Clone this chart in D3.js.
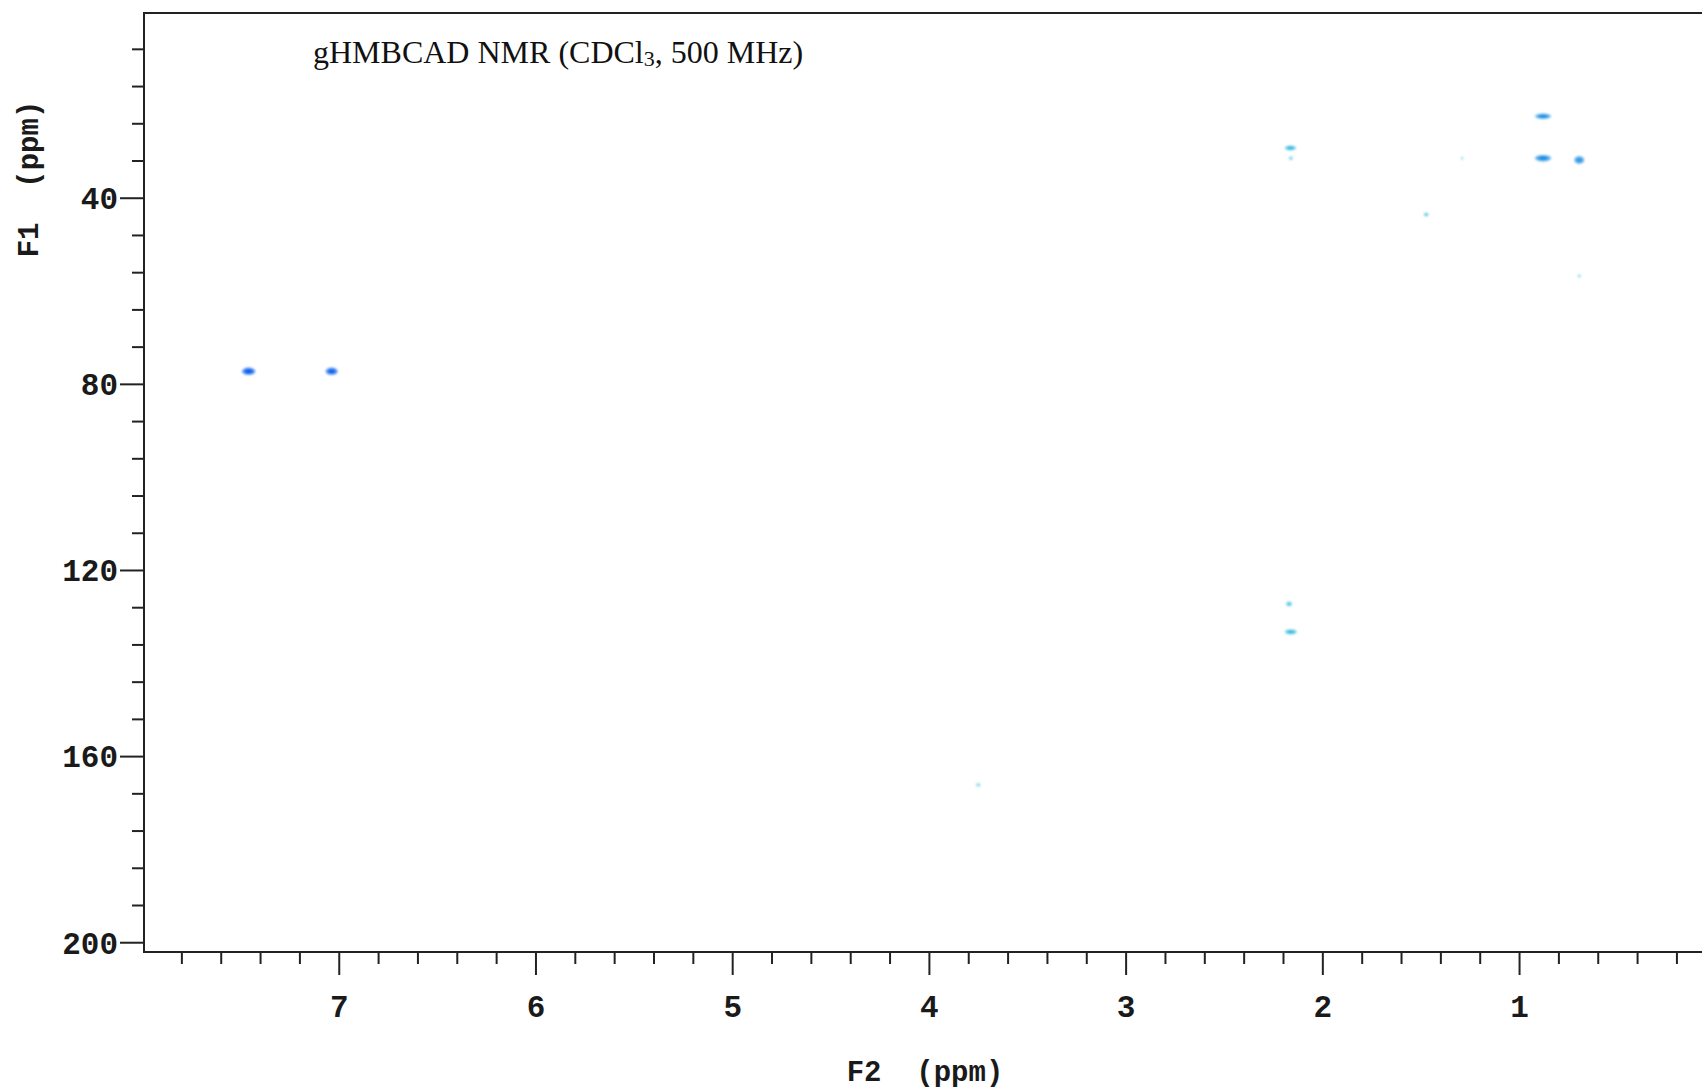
<!DOCTYPE html>
<html>
<head>
<meta charset="utf-8">
<script src="https://cdn.jsdelivr.net/npm/d3@7"></script>
<style>
  html, body { margin: 0; padding: 0; background: #ffffff; }
  svg { display: block; }
</style>
</head>
<body>
<svg id="chart" width="1702" height="1091"></svg>
<script>
// ---- data ----
const titleMain = "gHMBCAD NMR (CDCl";
const titleSub = "3";
const titleTail = ", 500 MHz)";
const xLabel = "F2  (ppm)";
const yLabel = "F1  (ppm)";

const xMajorTicks = [7, 6, 5, 4, 3, 2, 1];
const yMajorTicks = [40, 80, 120, 160, 200];

// cross peaks: F2 (1H, ppm), F1 (13C, ppm)
const peakF2 = [7.458, 7.036, 2.162, 2.160, 1.289, 1.472, 0.878, 0.878, 0.694, 0.694, 2.169, 2.160, 3.749];
const peakF1 = [77.3, 77.3, 29.3, 31.5, 31.5, 43.6, 22.5, 31.5, 31.9, 56.8, 127.3, 133.3, 166.2];
// relative intensity (0..1)
const peakIntensity = [1.0, 0.95, 0.85, 0.35, 0.2, 0.6, 0.9, 0.95, 0.8, 0.3, 0.7, 0.85, 0.3];
// colour family of the contour
const peakTone = ["blue", "blue", "cyan", "cyan", "cyan", "cyan", "azure", "azure", "azure", "cyan", "cyan", "cyan", "cyan"];
// apparent line widths (ppm)
const peakWidthF2 = [0.068, 0.062, 0.058, 0.022, 0.012, 0.025, 0.082, 0.082, 0.052, 0.018, 0.030, 0.062, 0.025];
const peakWidthF1 = [1.6, 1.6, 1.1, 0.9, 0.8, 0.9, 1.2, 1.4, 1.7, 0.7, 1.0, 1.1, 0.8];

// ---- chart ----
const W = 1702, H = 1091;
const mLeft = 144, mTop = 13, mRight = 1702, mBottom = 952;

const svg = d3.select("#chart");
svg.append("rect").attr("width", W).attr("height", H).attr("fill", "#ffffff");

const x = d3.scaleLinear().domain([7.99, 0.07]).range([mLeft, mRight]);
const y = d3.scaleLinear().domain([0.3, 202.1]).range([mTop, mBottom]);

const axisColor = "#222222";
const monoFont = "'Liberation Mono', 'DejaVu Sans Mono', monospace";

// blur for soft contour look
const defs = svg.append("defs");
defs.append("filter").attr("id", "soft")
  .attr("x", "-50%").attr("y", "-50%").attr("width", "200%").attr("height", "200%")
  .append("feGaussianBlur").attr("stdDeviation", 0.8);

// minor tick lists
const xMinor = d3.range(1, 40).map(i => +(i * 0.2).toFixed(1)).filter(v => v < 7.99 && v > 0.07 && Math.abs(v - Math.round(v)) > 1e-6);
const yMinor = d3.range(1, 26).map(i => i * 8).filter(v => v % 40 !== 0);

// X axis
const gx = svg.append("g").attr("transform", `translate(0,${mBottom})`);
gx.append("g").call(d3.axisBottom(x).tickValues(xMinor).tickSize(12).tickFormat(""))
  .call(g => g.select(".domain").remove());
gx.append("g").call(d3.axisBottom(x).tickValues(xMajorTicks).tickSize(23).tickFormat(d3.format("d")))
  .call(g => g.select(".domain").remove())
  .call(g => g.selectAll("text")
    .attr("y", 54).attr("dy", "0.35em")
    .attr("font-family", monoFont).attr("font-weight", "bold").attr("font-size", 31)
    .attr("fill", "#1a1a1a"));
gx.selectAll(".tick line").attr("stroke", axisColor).attr("stroke-width", 2);

// Y axis
const gy = svg.append("g").attr("transform", `translate(${mLeft},0)`);
gy.append("g").call(d3.axisLeft(y).tickValues(yMinor).tickSize(12).tickFormat(""))
  .call(g => g.select(".domain").remove());
gy.append("g").call(d3.axisLeft(y).tickValues(yMajorTicks).tickSize(24).tickFormat(d3.format("d")))
  .call(g => g.select(".domain").remove())
  .call(g => g.selectAll("text")
    .attr("x", -26).attr("dy", "0.35em")
    .attr("font-family", monoFont).attr("font-weight", "bold").attr("font-size", 31)
    .attr("fill", "#1a1a1a"));
gy.selectAll(".tick line").attr("stroke", axisColor).attr("stroke-width", 2);

// frame
svg.append("path")
  .attr("d", `M${mRight},${mTop}H${mLeft}V${mBottom}H${mRight}`)
  .attr("fill", "none").attr("stroke", axisColor).attr("stroke-width", 2);

// axis titles
svg.append("text")
  .attr("x", 925).attr("y", 1071).attr("dy", "0.35em")
  .attr("text-anchor", "middle")
  .attr("font-family", monoFont).attr("font-weight", "bold").attr("font-size", 29)
  .attr("fill", "#1a1a1a")
  .style("white-space", "pre")
  .text(xLabel);

svg.append("text")
  .attr("transform", "translate(28,179) rotate(-90)")
  .attr("dy", "0.35em")
  .attr("text-anchor", "middle")
  .attr("font-family", monoFont).attr("font-weight", "bold").attr("font-size", 29)
  .attr("fill", "#1a1a1a")
  .style("white-space", "pre")
  .text(yLabel);

// title
const t = svg.append("text")
  .attr("x", 313).attr("y", 63)
  .attr("font-family", "'Liberation Serif', 'Times New Roman', serif")
  .attr("font-size", 32).attr("fill", "#111111");
t.append("tspan").text(titleMain);
t.append("tspan").attr("font-size", 22).attr("dy", 3).text(titleSub);
t.append("tspan").attr("dy", -3).text(titleTail);

// peaks
const toneScale = {
  blue: d3.interpolateRgb("#a6cffa", "#0058ee"),
  azure: d3.interpolateRgb("#b3dcf7", "#0584e2"),
  cyan: d3.interpolateRgb("#c6eef5", "#10b0d8")
};
const peaks = peakF2.map((f2, i) => ({
  f2, f1: peakF1[i], a: peakIntensity[i], tone: peakTone[i],
  w2: peakWidthF2[i], w1: peakWidthF1[i]
}));
const levels = [0.4, 0.75, 1.0];
const gp = svg.append("g").attr("filter", "url(#soft)");
peaks.forEach(p => {
  const cx = x(p.f2), cy = y(p.f1);
  const rx = Math.abs(x(p.f2 + p.w2 / 2) - x(p.f2 - p.w2 / 2)) / 2;
  const ry = Math.abs(y(p.f1 + p.w1 / 2) - y(p.f1 - p.w1 / 2)) / 2;
  levels.forEach((lv, k) => {
    const frac = 1 - k * 0.28;
    gp.append("ellipse")
      .attr("cx", cx).attr("cy", cy)
      .attr("rx", Math.max(rx * frac, 1))
      .attr("ry", Math.max(ry * frac, 1))
      .attr("fill", toneScale[p.tone](p.a * lv));
  });
});
</script>
</body>
</html>
